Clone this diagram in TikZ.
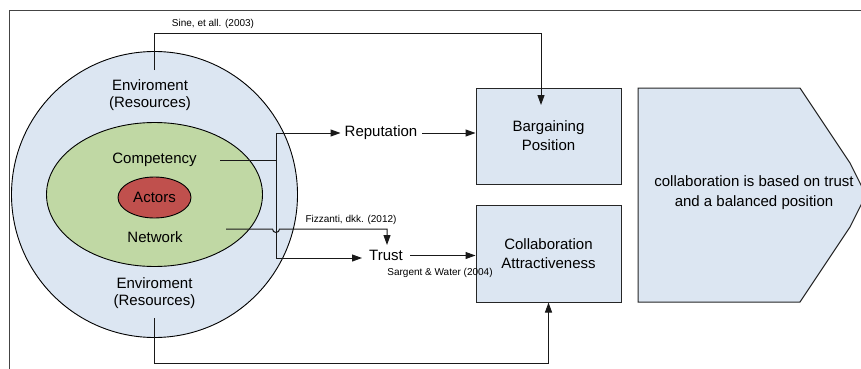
\documentclass[tikz,border=0pt]{standalone}
\usepackage{fontspec}
\setmainfont{Liberation Sans}
\usetikzlibrary{arrows.meta,shapes.geometric}
\definecolor{envblue}{HTML}{DCE6F2}
\definecolor{netgreen}{HTML}{C0D8A4}
\definecolor{actred}{HTML}{C0504D}
\definecolor{framegray}{HTML}{444444}
\tikzset{
  big/.style={font=\fontsize{15}{17.5}\selectfont, align=center, inner sep=1pt},
  cite/.style={font=\fontsize{10}{12}\selectfont, inner sep=1pt},
  layer/.style={draw=black, line width=0.9pt, inner sep=0pt},
  box/.style={draw=black!85, line width=1pt, fill=envblue, inner sep=0pt,
              font=\fontsize{15}{19}\selectfont, align=center},
  link/.style={draw=black!90, line width=1pt},
  arr/.style={link, -{Triangle[length=10pt,width=7pt]}},
}
\begin{document}
\begin{tikzpicture}[x=1pt,y=-1pt]
\useasboundingbox (0,0) rectangle (861,369);
\clip (0,0) rectangle (861,369);
\fill[white] (0,0) rectangle (861,369);

% open frame
\draw[framegray, line width=1pt] (9,369) -- (9,11) -- (861,11);

% nested layers
\node[layer, circle, fill=envblue, minimum size=286pt] (env) at (154.5,194.5) {};
\node[layer, ellipse, fill=netgreen, minimum width=216pt, minimum height=144pt] (net) at (154.5,194.5) {};
\node[layer, ellipse, fill=actred, minimum width=73pt, minimum height=41pt] (act) at (154.5,197.5) {};

\node[big] (envtop) at (150,95) {Enviroment\\(Resources)};
\node[big] (comp) at (154.5,160) {Competency};
\node[big] (actors) at (154.5,197) {Actors};
\node[big] (netw) at (155,237) {Network};
\node[big] (envbot) at (154.5,293) {Enviroment\\(Resources)};

% outcome boxes
\node[box, minimum width=145pt, minimum height=96pt] (barg) at (548.5,136) {Bargaining\\Position};
\node[box, minimum width=145pt, minimum height=97pt] (coll) at (548.5,253.5) {Collaboration\\Attractiveness};

% result chevron
\draw[draw=black!85, line width=1pt, fill=envblue]
  (638,88) -- (800,88) -- (850,163) -- (866,195) -- (850,227) -- (800,302) -- (638,302) -- cycle;
\node[big, font=\fontsize{15}{19.5}\selectfont] (result) at (754,192.5)
  {collaboration is based on trust\\and a balanced position};

% intermediate factors
\node[big] (rep) at (381,133) {Reputation};
\node[big] (trust) at (386,255.5) {Trust};

% references
\node[cite] (sine) at (213,24) {Sine, et all. (2003)};
\node[cite] (fizz) at (351,220) {Fizzanti, dkk. (2012)};
\node[cite] (sarg) at (440,273) {Sargent \& Water (2004)};

% anchor points on the layers
\coordinate (envA) at (154,70);
\coordinate (envB) at (154,318);
\coordinate (compA) at (220,160);
\coordinate (netA) at (226,229);
\coordinate (split) at (276,160);
\coordinate (bargIn) at (541,105);

% connectors
\draw[arr] (envA) -- (154,34) -| (bargIn);
\draw[link] (compA) -- (split);
\draw[arr] (split) |- ([xshift=-3pt]rep.west);
\draw[arr] (split) |- (362,258);
\draw[arr] (netA) -- (272.5,229) arc[start angle=180, end angle=0, radius=3.5] -- (387,229) -- (387,245);
\draw[arr] ([xshift=4pt]rep.east) -- (rep.east -| barg.west);
\draw[arr] ([xshift=6pt]trust.east) -- (trust.east -| coll.west);
\draw[arr] (envB) -- (154,363) -| (coll.south);
\end{tikzpicture}
\end{document}
